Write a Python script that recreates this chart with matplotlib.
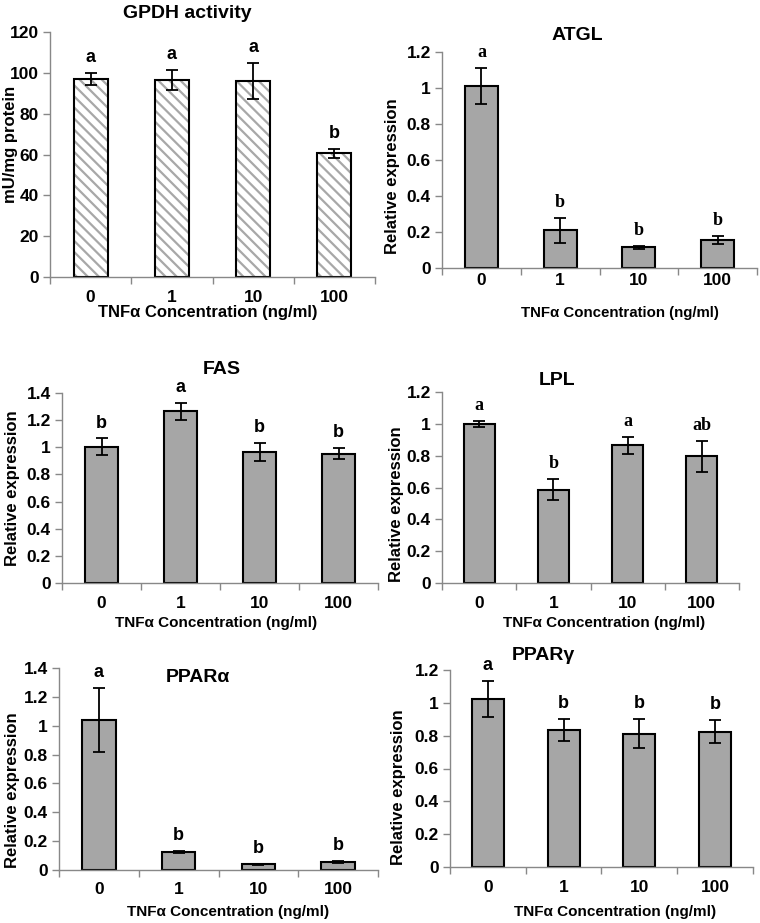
import numpy as np
import matplotlib
matplotlib.use('Agg')
import matplotlib.pyplot as plt

plt.rcParams['font.family'] = ['Liberation Sans', 'DejaVu Sans']
plt.rcParams['font.weight'] = 'bold'
plt.rcParams['hatch.linewidth'] = 1.6

concs = ['0', '1', '10', '100']
xlab = 'TNFα Concentration (ng/ml)'

gpdh = [97.0, 96.5, 96.0, 60.5]
gpdh_err = [3.0, 5.0, 9.0, 2.0]
gpdh_let = ['a', 'a', 'a', 'b']

atgl = [1.01, 0.21, 0.115, 0.155]
atgl_err = [0.10, 0.07, 0.008, 0.022]
atgl_let = ['a', 'b', 'b', 'b']

fas = [1.005, 1.265, 0.965, 0.953]
fas_err = [0.06, 0.065, 0.068, 0.04]
fas_let = ['b', 'a', 'b', 'b']

lpl = [1.0, 0.587, 0.865, 0.797]
lpl_err = [0.02, 0.065, 0.055, 0.098]
lpl_let = ['a', 'b', 'a', 'ab']

ppara = [1.04, 0.125, 0.04, 0.055]
ppara_err = [0.22, 0.005, 0.005, 0.006]
ppara_let = ['a', 'b', 'b', 'b']

pparg = [1.025, 0.835, 0.813, 0.825]
pparg_err = [0.11, 0.068, 0.09, 0.072]
pparg_let = ['a', 'b', 'b', 'b']

W, H = 760, 923
fig = plt.figure(figsize=(W / 100, H / 100), dpi=100)


def px_axes(left, right, top, bottom):
    return fig.add_axes([left / W, 1 - bottom / H, (right - left) / W, (bottom - top) / H])


def panel(rect, vals, errs, lets, ymax, ystep, title, tpos, ylab, ypos, xpos,
          hatch=False, serif=False, xfs=11, xpad=9):
    ax = px_axes(*rect)
    x = np.arange(len(vals))
    if hatch:
        ax.bar(x, vals, 0.42, color='white', edgecolor='#a8a8a8', hatch='\\\\\\', linewidth=0)
        ax.bar(x, vals, 0.42, color='none', edgecolor='black', linewidth=1.5)
    else:
        ax.bar(x, vals, 0.42, color='#a6a6a6', edgecolor='black', linewidth=1.5)
    ax.errorbar(x, vals, yerr=errs, fmt='none', ecolor='black', elinewidth=1.3,
                capsize=4, capthick=1.3)
    fam = ['Liberation Serif'] if serif else ['Liberation Sans']
    for xi, v, e, l in zip(x, vals, errs, lets):
        ax.annotate(l, (xi, v + e), xytext=(0, 5), textcoords='offset points',
                    ha='center', va='bottom', fontsize=13, fontweight='bold', family=fam)
    ax.set_xlim(-0.5, 3.5)
    ax.set_ylim(0, ymax)
    ticks = np.arange(0, ymax + ystep / 2, ystep)
    ax.set_yticks(ticks)
    ax.set_yticklabels(['%g' % round(t, 1) for t in ticks])
    ax.set_xticks(x)
    ax.set_xticklabels(concs)
    ax.set_xticks(np.arange(-0.5, 4.0, 1.0), minor=True)
    ax.tick_params(axis='x', which='major', length=0, pad=xpad, labelsize=12.5)
    ax.tick_params(axis='x', which='minor', length=5, color='#888888', width=1)
    ax.tick_params(axis='y', length=5, color='#888888', width=1, labelsize=12.5, pad=3)
    for s in ['top', 'right']:
        ax.spines[s].set_visible(False)
    for s in ['left', 'bottom']:
        ax.spines[s].set_color('#888888')
        ax.spines[s].set_linewidth(1)
    fig.text(tpos[0] / W, 1 - tpos[1] / H, title, ha='center', va='center',
             fontsize=14, fontweight='bold')
    fig.text(ypos[0] / W, 1 - ypos[1] / H, ylab, ha='center', va='center',
             rotation=90, fontsize=12, fontweight='bold')
    fig.text(xpos[0] / W, 1 - xpos[1] / H, xlab, ha='center', va='center',
             fontsize=xfs, fontweight='bold')
    return ax


panel((50, 375, 32, 277), gpdh, gpdh_err, gpdh_let, 120, 20, 'GPDH activity', (187, 14),
      'mU/mg protein', (11, 144), (208, 312), hatch=True, xfs=12)
panel((442, 757, 52, 268), atgl, atgl_err, atgl_let, 1.2, 0.2, 'ATGL', (577, 36),
      'Relative expression', (393, 176), (620, 313), serif=True, xfs=10.8, xpad=3.5)
panel((62, 378, 393, 583), fas, fas_err, fas_let, 1.4, 0.2, 'FAS', (222, 370),
      'Relative expression', (13, 488), (216, 623))
panel((442, 739, 392, 583), lpl, lpl_err, lpl_let, 1.2, 0.2, 'LPL', (557, 381),
      'Relative expression', (397, 504), (604, 623), serif=True)
panel((59, 378, 668, 870), ppara, ppara_err, ppara_let, 1.4, 0.2, 'PPARα', (198, 677),
      'Relative expression', (13, 790), (228, 912))
panel((450, 753, 670, 867), pparg, pparg_err, pparg_let, 1.2, 0.2, 'PPARγ', (543, 655),
      'Relative expression', (398, 787), (615, 912))

fig.savefig('out.png', dpi=100)
